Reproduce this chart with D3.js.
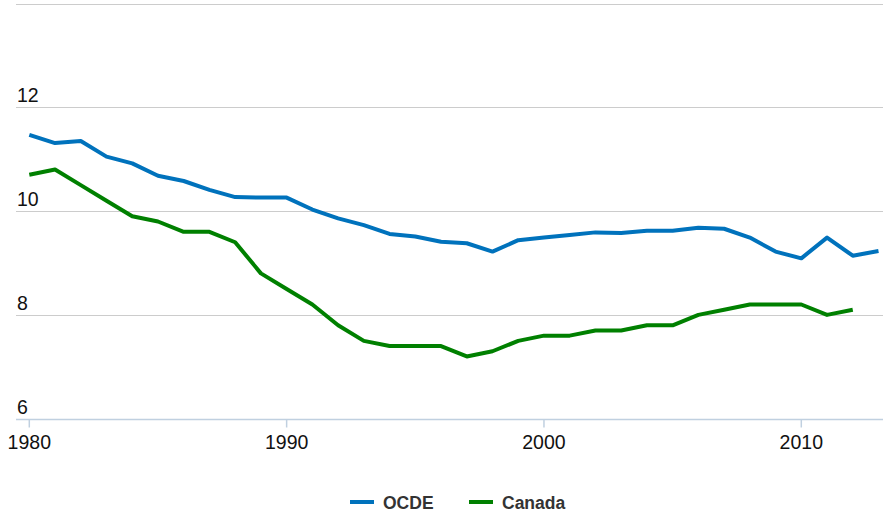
<!DOCTYPE html>
<html>
<head>
<meta charset="utf-8">
<script src="https://cdn.jsdelivr.net/npm/d3@7"></script>
<style>
  body { margin: 0; background: #fff; }
  text { font-family: "Liberation Sans", Arial, sans-serif; }
</style>
</head>
<body>
<div id="chart"></div>
<script>
var years = d3.range(1980, 2014);
var ocde = [11.47, 11.31, 11.35, 11.05, 10.92, 10.68, 10.58, 10.41, 10.27, 10.26,
            10.26, 10.03, 9.86, 9.73, 9.56, 9.51, 9.41, 9.38, 9.22, 9.44,
            9.49, 9.54, 9.59, 9.58, 9.62, 9.62, 9.68, 9.66, 9.49, 9.22,
            9.09, 9.49, 9.14, 9.23];
var canada = [10.7, 10.8, 10.5, 10.2, 9.9, 9.8, 9.6, 9.6, 9.4, 8.8,
              8.5, 8.2, 7.8, 7.5, 7.4, 7.4, 7.4, 7.2, 7.3, 7.5,
              7.6, 7.6, 7.7, 7.7, 7.8, 7.8, 8.0, 8.1, 8.2, 8.2,
              8.2, 8.0, 8.1];
var seriesNames = ["OCDE", "Canada"];
var seriesColors = ["#0072bc", "#008000"];
var yTicks = [6, 8, 10, 12, 14];
var xTicks = [1980, 1990, 2000, 2010];

var W = 883, H = 514;
var svg = d3.select("#chart").append("svg")
  .attr("width", W).attr("height", H);

var x = d3.scaleLinear().domain([1980, 2013]).range([29.3, 878.5]);
var y = d3.scaleLinear().domain([6, 14]).range([418.7, 3.5]);

// gridlines
svg.append("g").selectAll("line")
  .data(yTicks.filter(function(d) { return d > 6; }))
  .enter().append("line")
    .attr("x1", 16).attr("x2", W)
    .attr("y1", function(d) { return Math.round(y(d)) + 0.5; })
    .attr("y2", function(d) { return Math.round(y(d)) + 0.5; })
    .style("stroke", "#cccccc")
    .style("stroke-width", 1);

// y labels (above gridlines)
svg.append("g").selectAll("text")
  .data(yTicks.filter(function(d) { return d < 14; }))
  .enter().append("text")
    .attr("x", 17)
    .attr("y", function(d) { return y(d) - 5; })
    .style("font-size", "19.5px")
    .style("fill", "#111")
    .text(function(d) { return d; });

// x axis
var xAxis = svg.append("g")
  .attr("transform", "translate(0," + (Math.round(y(6)) + 0.5) + ")");
xAxis.append("line")
  .attr("x1", 16).attr("x2", W)
  .style("stroke", "#c0d0e0").style("stroke-width", 1.5);
var tk = xAxis.selectAll(".tick").data(xTicks).enter().append("g")
  .attr("transform", function(d) { return "translate(" + x(d) + ",0)"; });
tk.append("line").attr("y1", 0).attr("y2", 8)
  .style("stroke", "#c0d0e0").style("stroke-width", 1.5);
tk.append("text")
  .attr("y", 29)
  .attr("text-anchor", "middle")
  .style("font-size", "19.5px")
  .style("fill", "#111")
  .text(function(d) { return d; });

// lines
var line = d3.line()
  .x(function(d, i) { return x(years[i]); })
  .y(function(d) { return y(d); });

[ocde, canada].forEach(function(s, i) {
  svg.append("path")
    .datum(s)
    .attr("d", line)
    .style("fill", "none")
    .style("stroke", seriesColors[i])
    .style("stroke-width", 4)
    .style("stroke-linejoin", "round");
});

// legend
var legX = [350, 469];
var leg = svg.append("g").selectAll("g").data(seriesNames).enter().append("g")
  .attr("transform", function(d, i) { return "translate(" + legX[i] + ",502)"; });
leg.append("line")
  .attr("x1", 0).attr("x2", 24)
  .style("stroke", function(d, i) { return seriesColors[i]; })
  .style("stroke-width", 4);
leg.append("text")
  .attr("x", 33).attr("y", 6.5)
  .style("font-size", "17.5px")
  .style("font-weight", "bold")
  .style("fill", "#333")
  .text(function(d) { return d; });
</script>
</body>
</html>
